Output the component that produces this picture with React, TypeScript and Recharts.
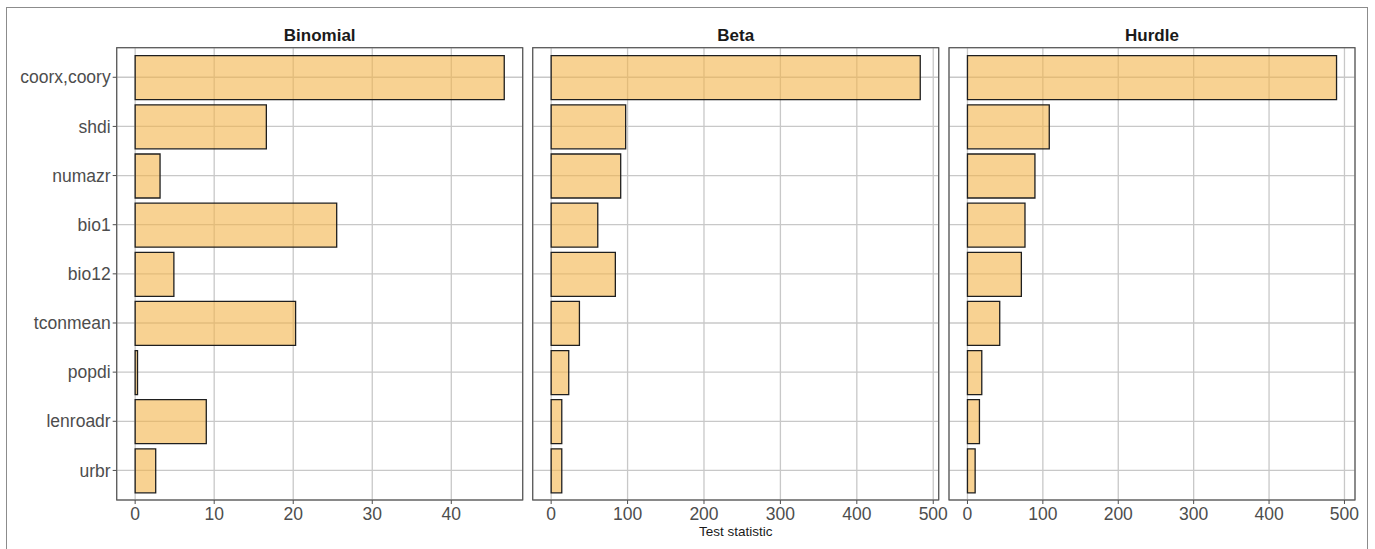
import { BarChart, Bar, XAxis, YAxis, CartesianGrid } from 'recharts'

const variables = ['coorx,coory', 'shdi', 'numazr', 'bio1', 'bio12', 'tconmean', 'popdi', 'lenroadr', 'urbr']
const binomial = [46.7, 16.6, 3.15, 25.5, 4.9, 20.3, 0.3, 9.0, 2.6]
const beta = [483, 97.5, 91, 61, 84, 37, 23, 13.9, 13.9]
const hurdle = [489.5, 108.5, 89.5, 76.3, 71.5, 42.8, 19, 15.9, 10.2]

const panelTitles = ['Binomial', 'Beta', 'Hurdle']
const binomialTicks = [0, 10, 20, 30, 40]
const bigTicks = [0, 100, 200, 300, 400, 500]

const W = 1375
const H = 549
const TOP = 47.7
const BOTTOM = 500
const FONT = '"Liberation Sans", Arial, Helvetica, sans-serif'

const panels = [
  { left: 116.7, right: 522.7, values: binomial, ticks: binomialTicks },
  { left: 532.7, right: 938.7, values: beta, ticks: bigTicks },
  { left: 949, right: 1355, values: hurdle, ticks: bigTicks },
]

function Panel({ idx }: { idx: number }) {
  const p = panels[idx]
  const data = variables.map((name, i) => ({ name, value: p.values[i] }))
  const max = Math.max(...p.values)
  const showY = idx === 0
  return (
    <div style={{ position: 'absolute', left: 0, top: 0 }}>
      <BarChart
        width={W}
        height={H}
        data={data}
        layout="vertical"
        margin={{ top: TOP, bottom: 0, left: showY ? 0 : p.left, right: W - p.right }}
        barSize={44}
      >
        <CartesianGrid stroke="#c8c8c8" strokeWidth={1.3} />
        <XAxis
          type="number"
          domain={[-0.05 * max, 1.05 * max]}
          ticks={p.ticks}
          allowDataOverflow
          height={H - BOTTOM}
          axisLine={false}
          tickSize={4}
          tickMargin={4}
          tickLine={{ stroke: '#4d4d4d' }}
          tick={{ fill: '#4d4d4d', fontSize: 17.5, fontFamily: FONT }}
        />
        <YAxis
          type="category"
          dataKey="name"
          hide={!showY}
          width={p.left}
          padding={{ top: 5, bottom: 5 }}
          axisLine={false}
          tickSize={4}
          tickMargin={2}
          tickLine={{ stroke: '#4d4d4d' }}
          tick={{ fill: '#4d4d4d', fontSize: 17.5, fontFamily: FONT }}
          interval={0}
        />
        <Bar
          dataKey="value"
          fill="#f4b44a"
          fillOpacity={0.6}
          stroke="#1f1f1f"
          strokeWidth={1.3}
          isAnimationActive={false}
        />
      </BarChart>
    </div>
  )
}

export default function App() {
  return (
    <div style={{ position: 'absolute', left: 0, top: 0, width: W, height: H, background: '#fff', overflow: 'hidden' }}>
      {panels.map((_, i) => (
        <Panel key={i} idx={i} />
      ))}
      <svg width={W} height={H} style={{ position: 'absolute', left: 0, top: 0, pointerEvents: 'none' }}>
        <rect x={6.5} y={7.5} width={1361} height={560} fill="none" stroke="#8c8c8c" strokeWidth={1} />
        {panels.map((p, i) => (
          <g key={i}>
            <rect x={p.left} y={TOP} width={p.right - p.left} height={BOTTOM - TOP} fill="none" stroke="#555" strokeWidth={1.2} />
            <text x={(p.left + p.right) / 2} y={40.5} textAnchor="middle" fontFamily={FONT} fontSize={17} fontWeight="bold" fill="#1a1a1a">
              {panelTitles[i]}
            </text>
          </g>
        ))}
        <text x={(panels[0].left + panels[2].right) / 2} y={536} textAnchor="middle" fontFamily={FONT} fontSize={13.5} fill="#1a1a1a">
          Test statistic
        </text>
      </svg>
    </div>
  )
}
